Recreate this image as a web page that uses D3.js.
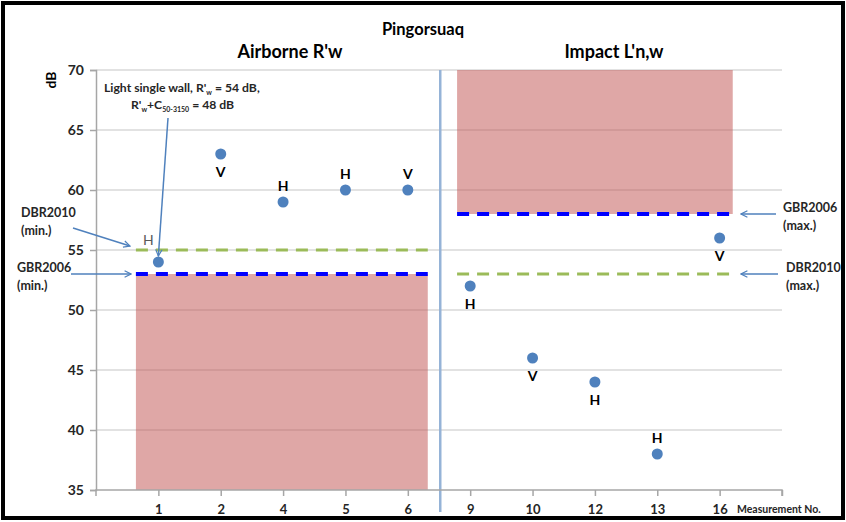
<!DOCTYPE html>
<html><head><meta charset="utf-8">
<script src="https://cdn.jsdelivr.net/npm/d3@7"></script>
<style>
html,body{margin:0;padding:0;background:#fff;}
svg{display:block;font-family:Lato,"Open Sans",sans-serif;}
</style></head>
<body>
<svg id="chart" width="846" height="522"></svg>
<script>
// ---- data ----
const categories = ["1","2","4","5","6","9","10","12","13","16"];
const values = [54,63,59,60,60,52,46,44,38,56];
const pointLabels = ["H","V","H","H","V","H","V","H","H","V"];
const labelSide = ["above","below","above","above","above","below","below","below","above","below"];
const yTicks = [35,40,45,50,55,60,65,70];
const sectionTitles = ["Airborne R'w","Impact L'n,w"];
// requirement levels (dB)
const airborneGBR2006min = 53, airborneDBR2010min = 55;
const impactGBR2006max = 58, impactDBR2010max = 53;
// extents of requirement zones in category-position units
const airborneSpan = [0.64, 5.32];
const impactSpan = [5.79, 10.21];
const dividerPos = 5.52;

const svg = d3.select("#chart");
const x = d3.scaleLinear().domain([0, 11]).range([96, 782]);
const y = d3.scaleLinear().domain([35, 70]).range([490, 70]);

// frame
svg.append("rect").attr("x",3).attr("y",3).attr("width",840).attr("height",515)
  .attr("fill","none").attr("stroke","#000").attr("stroke-width",4);

// gridlines
svg.append("g").selectAll("line").data(yTicks.slice(1)).join("line")
  .attr("x1",x(0)).attr("x2",x(11)).attr("y1",d=>y(d)).attr("y2",d=>y(d))
  .attr("stroke","#d9d9d9").attr("stroke-width",1.5);

// red zones
svg.append("rect").attr("x",x(airborneSpan[0])).attr("width",x(airborneSpan[1])-x(airborneSpan[0]))
  .attr("y",y(airborneGBR2006min)).attr("height",y(35)-y(airborneGBR2006min))
  .attr("fill","#c0504d").attr("fill-opacity",0.5);
svg.append("rect").attr("x",x(impactSpan[0])).attr("width",x(impactSpan[1])-x(impactSpan[0]))
  .attr("y",y(70)).attr("height",y(impactGBR2006max)-y(70))
  .attr("fill","#c0504d").attr("fill-opacity",0.5);

// dashed requirement lines
function hline(span, v, color, w, dash){
  svg.append("line").attr("x1",x(span[0])).attr("x2",x(span[1]))
    .attr("y1",y(v)).attr("y2",y(v)).attr("stroke",color).attr("stroke-width",w)
    .attr("stroke-dasharray",dash);
}
hline(airborneSpan, airborneDBR2010min, "#9bbb59", 3, "12,8");
hline(impactSpan, impactDBR2010max, "#9bbb59", 3, "12,8");
hline(airborneSpan, airborneGBR2006min, "#0000ff", 4, "12,8");
hline(impactSpan, impactGBR2006max, "#0000ff", 4, "12,8");

// divider
svg.append("line").attr("x1",x(dividerPos)).attr("x2",x(dividerPos)).attr("y1",y(70)).attr("y2",512)
  .attr("stroke","#95b3d7").attr("stroke-width",2.5);

// axes
const yAxis = d3.axisLeft(y).tickValues(yTicks).tickSize(6).tickPadding(6);
const gy = svg.append("g").attr("transform",`translate(${x(0)},0)`).call(yAxis);
gy.select(".domain").attr("stroke","#a6a6a6").attr("stroke-width",1.5);
gy.selectAll(".tick line").attr("stroke","#a6a6a6").attr("stroke-width",1.5);
gy.selectAll(".tick text").attr("font-family","Lato").attr("font-size",14).attr("font-weight","bold").attr("fill","#262626");

const xAxis = d3.axisBottom(x).tickValues(d3.range(1,12)).tickSize(6).tickPadding(9)
  .tickFormat(d => categories[d-1] || "");
const gx = svg.append("g").attr("transform",`translate(0,${y(35)})`).call(xAxis);
gx.select(".domain").attr("stroke","#a6a6a6").attr("stroke-width",1.5).attr("d",`M${x(0)},6V0H${x(11)}V6`);
gx.selectAll(".tick line").attr("stroke","#a6a6a6").attr("stroke-width",1.5);
gx.selectAll(".tick text").attr("font-family","Lato").attr("font-size",13).attr("font-weight","bold").attr("fill","#262626");

svg.append("text").attr("x",737).attr("y",513).attr("font-size",10.5).attr("font-weight","bold")
  .attr("fill","#262626").text("Measurement No.");

// titles
svg.append("text").attr("x",423).attr("y",35).attr("text-anchor","middle")
  .attr("font-size",16.5).attr("font-weight","bold").attr("fill","#000").text("Pingorsuaq");
svg.append("text").attr("x",290).attr("y",58).attr("text-anchor","middle")
  .attr("font-size",18).attr("font-weight","bold").attr("fill","#000").text(sectionTitles[0]);
svg.append("text").attr("x",614).attr("y",58).attr("text-anchor","middle")
  .attr("font-size",18).attr("font-weight","bold").attr("fill","#000").text(sectionTitles[1]);
svg.append("text").attr("transform","translate(56,80) rotate(-90)").attr("text-anchor","middle")
  .attr("font-size",14).attr("font-weight","bold").attr("fill","#000").text("dB");

// points
svg.append("g").selectAll("circle").data(values).join("circle")
  .attr("cx",(d,i)=>x(i+1)).attr("cy",d=>y(d)).attr("r",5.5).attr("fill","#4f81bd");

// point labels
svg.append("g").selectAll("text").data(values).join("text")
  .attr("x",(d,i)=> i===0 ? x(i+1)-10 : x(i+1))
  .attr("y",(d,i)=> i===0 ? y(d)-17 : (labelSide[i]==="above" ? y(d)-11 : y(d)+23))
  .attr("text-anchor","middle").attr("font-size",14)
  .attr("font-weight",(d,i)=> i===0 ? "normal" : "bold")
  .attr("fill",(d,i)=> i===0 ? "#595959" : "#000")
  .text((d,i)=>pointLabels[i]);

// arrows
const defs = svg.append("defs");
defs.append("marker").attr("id","arr").attr("viewBox","0 0 10 10").attr("refX",9).attr("refY",5)
  .attr("markerWidth",8).attr("markerHeight",8).attr("orient","auto-start-reverse")
  .attr("markerUnits","userSpaceOnUse")
  .append("path").attr("d","M1,1 L9,5 L1,9").attr("fill","none").attr("stroke","#4f81bd").attr("stroke-width",1.5);
function arrow(x1,y1,x2,y2){
  svg.append("line").attr("x1",x1).attr("y1",y1).attr("x2",x2).attr("y2",y2)
    .attr("stroke","#4f81bd").attr("stroke-width",1.5).attr("marker-end","url(#arr)");
}
arrow(168,118, x(1), y(values[0])-6);
arrow(73,228, 130,246);
arrow(71,y(airborneGBR2006min), 131,y(airborneGBR2006min));
arrow(776,y(impactGBR2006max), 741,y(impactGBR2006max));
arrow(778,y(impactDBR2010max), 741,y(impactDBR2010max));

// annotation text
const ann = svg.append("g").attr("font-size",12.2).attr("font-weight","bold").attr("fill","#262626");
const t1 = ann.append("text").attr("x",104).attr("y",92);
t1.append("tspan").text("Light single wall, R'");
t1.append("tspan").attr("font-size",7).attr("dy",3).text("w");
t1.append("tspan").attr("dy",-3).text(" = 54 dB,");
const t2 = ann.append("text").attr("x",131).attr("y",109);
t2.append("tspan").text("R'");
t2.append("tspan").attr("font-size",7).attr("dy",3).text("w");
t2.append("tspan").attr("dy",-3).text("+C");
t2.append("tspan").attr("font-size",7).attr("dy",3).text("50-3150");
t2.append("tspan").attr("dy",-3).text("  = 48 dB");

function twoLine(xp, yp, a, b){
  const g = svg.append("text").attr("font-size",12.5).attr("font-weight","bold").attr("fill","#262626");
  g.append("tspan").attr("x",xp).attr("y",yp).text(a);
  g.append("tspan").attr("x",xp).attr("y",yp+18).text(b);
}
twoLine(21,217,"DBR2010","(min.)");
twoLine(17,272,"GBR2006","(min.)");
twoLine(783,212,"GBR2006","(max.)");
twoLine(786,272,"DBR2010","(max.)");
</script>
</body></html>
